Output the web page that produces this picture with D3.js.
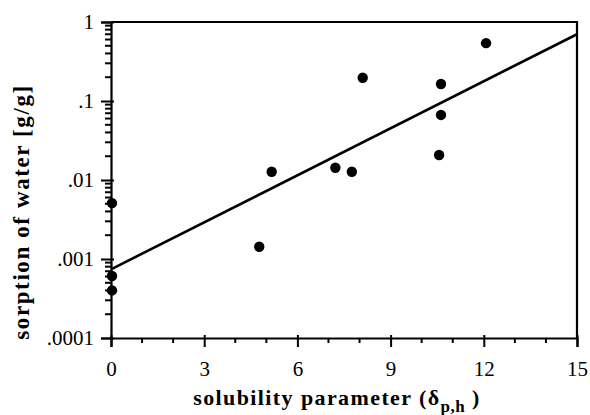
<!DOCTYPE html>
<html>
<head>
<meta charset="utf-8">
<script src="https://cdn.jsdelivr.net/npm/d3@7"></script>
<style>
  body { margin: 0; background: #fff; }
  svg { display: block; }
</style>
</head>
<body>
<div id="chart"></div>
<script>
'use strict';

// measured points: solubility parameter vs. sorption of water
var solubility = [0, 0, 0, 4.74, 5.14, 7.19, 7.72, 8.07, 10.53, 10.59, 10.59, 12.04];
var sorption = [0.0051, 0.00061, 0.00040, 0.00143, 0.0127, 0.0143, 0.0127, 0.197, 0.0207, 0.164, 0.0666, 0.54];

// fitted regression line (end points)
var fitX = [0, 15];
var fitY = [0.00074, 0.70];

var xTicks = [0, 3, 6, 9, 12, 15];
var yTicks = [1e-4, 1e-3, 1e-2, 1e-1, 1];
var yTickLabels = ['.0001', '.001', '.01', '.1', '1'];

var FONT = "'Liberation Serif', 'Times New Roman', serif";

var W = 590, H = 415;
var margin = {top: 22, right: 13, bottom: 77, left: 111};
var iw = W - margin.left - margin.right;
var ih = H - margin.top - margin.bottom;

var svg = d3.select('#chart').append('svg').attr('width', W).attr('height', H);
var g = svg.append('g').attr('transform', 'translate(' + margin.left + ',' + margin.top + ')');

var x = d3.scaleLinear().domain([0, 15]).range([0, iw]);
var y = d3.scaleLog().domain([1e-4, 1]).range([ih, 0]);

// ── Axes ──

var minorX = d3.range(0, 16).filter(function(v) { return v % 3 !== 0; });
var minorY = [];
yTicks.slice(0, -1).forEach(function(t) {
    for (var k = 2; k <= 9; k++) minorY.push(t * k);
});

var xAxis = g.append('g').attr('transform', 'translate(0,' + ih + ')');
xAxis.call(d3.axisBottom(x).tickValues(xTicks).tickSize(9).tickPadding(14).tickFormat(d3.format('d')));
xAxis.selectAll('.tick line').attr('y1', -3);
xAxis.append('g').selectAll('line').data(minorX).enter().append('line')
    .attr('x1', function(d) { return x(d); }).attr('x2', function(d) { return x(d); })
    .attr('y1', 0).attr('y2', 5).attr('stroke', '#000').attr('stroke-width', 2);

var yAxis = g.append('g');
yAxis.call(d3.axisLeft(y).tickValues(yTicks).tickSize(10).tickPadding(7)
    .tickFormat(function(d, i) { return yTickLabels[i]; }));
yAxis.selectAll('.tick line').attr('x1', 3);
yAxis.selectAll('.tick text').attr('dy', '0.33em');
yAxis.append('g').selectAll('line').data(minorY).enter().append('line')
    .attr('y1', function(d) { return y(d); }).attr('y2', function(d) { return y(d); })
    .attr('x1', 0).attr('x2', -6).attr('stroke', '#000').attr('stroke-width', 2);

[xAxis, yAxis].forEach(function(a) {
    a.attr('font-family', null).attr('font-size', null)
        .style('font-family', FONT).style('font-size', '21px');
    a.select('.domain').attr('stroke-width', 2.2);
    a.selectAll('.tick line').attr('stroke-width', 2);
});

// frame top and right
g.append('path')
    .attr('d', 'M0,0H' + iw + 'V' + ih)
    .attr('fill', 'none').attr('stroke', '#000').attr('stroke-width', 2.2);

// ── Regression line ──

var line = d3.line().x(function(d) { return x(d[0]); }).y(function(d) { return y(d[1]); });
g.append('path')
    .datum(d3.zip(fitX, fitY))
    .attr('d', line)
    .attr('fill', 'none').attr('stroke', '#000').attr('stroke-width', 2.6);

// ── Points ──

g.selectAll('.dot')
    .data(d3.zip(solubility, sorption)).enter()
    .append('circle').attr('class', 'dot')
    .attr('cx', function(d) { return x(d[0]) + 1; })
    .attr('cy', function(d) { return y(d[1]); })
    .attr('r', 5.2)
    .attr('fill', '#000');

// ── Titles ──

var xt = svg.append('text')
    .attr('x', 337).attr('y', 405)
    .attr('text-anchor', 'middle')
    .style('font-family', FONT).style('font-size', '22px').style('font-weight', 'bold')
    .style('letter-spacing', '1.4px');
xt.append('tspan').text('solubility parameter (\u03B4');
xt.append('tspan').attr('dy', 7).style('font-size', '17px').style('letter-spacing', '0.5px').text('p,h');
xt.append('tspan').attr('dy', -7).text(' )');

svg.append('text')
    .attr('transform', 'translate(29,212) rotate(-90)')
    .attr('text-anchor', 'middle')
    .style('font-family', FONT).style('font-size', '23px').style('font-weight', 'bold')
    .style('letter-spacing', '1.6px')
    .text('sorption of water [g/g]');
</script>
</body>
</html>
